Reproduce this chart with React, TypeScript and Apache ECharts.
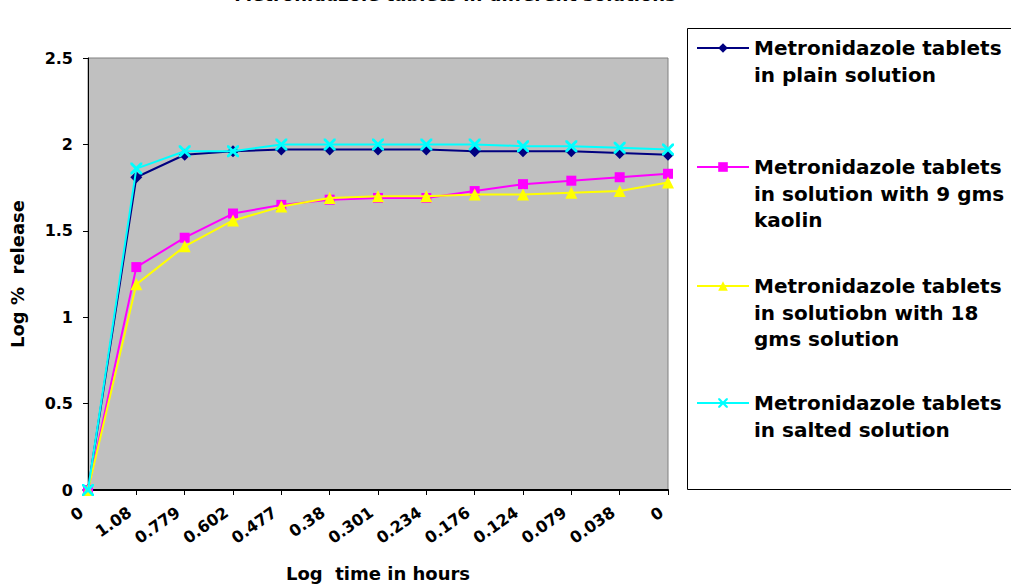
import React, { useEffect, useRef } from "react";
import * as echarts from "echarts";

const categories = ["0", "1.08", "0.779", "0.602", "0.477", "0.38", "0.301", "0.234", "0.176", "0.124", "0.079", "0.038", "0"];

const plainSolution = [0, 1.81, 1.94, 1.96, 1.97, 1.97, 1.97, 1.97, 1.96, 1.96, 1.96, 1.95, 1.94];
const kaolin9 = [0, 1.29, 1.46, 1.6, 1.65, 1.68, 1.69, 1.69, 1.73, 1.77, 1.79, 1.81, 1.83];
const solution18 = [0, 1.19, 1.41, 1.56, 1.64, 1.69, 1.7, 1.7, 1.71, 1.71, 1.72, 1.73, 1.78];
const salted = [0, 1.86, 1.96, 1.96, 2.0, 2.0, 2.0, 2.0, 2.0, 1.99, 1.99, 1.98, 1.97];

const legendLines = [
  ["Metronidazole tablets", "in plain solution"],
  ["Metronidazole tablets", "in solution with 9 gms", "kaolin"],
  ["Metronidazole tablets", "in solutiobn with 18", "gms solution"],
  ["Metronidazole tablets", "in salted solution"],
];

const yTicks = [0, 0.5, 1, 1.5, 2, 2.5];

const titleText = "Metronidazole tablets in different solutions";
const xAxisTitle = "Log  time in hours";
const yAxisTitle = "Log %  release";

const FONT = "DejaVu Sans";
const CROSS = "path://M0,0L2,0L6,4L10,0L12,0L12,2L8,6L12,10L12,12L10,12L6,8L2,12L0,12L0,10L4,6L0,2Z";

export default function App() {
  const ref = useRef<HTMLDivElement>(null);
  useEffect(() => {
    if (!ref.current) return;
    const chart = echarts.init(ref.current, null, { renderer: "svg" });
    const names = legendLines.map((l) => l.join(" "));
    const seriesData = [plainSolution, kaolin9, solution18, salted];
    const colors = ["#000080", "#FF00FF", "#FFFF00", "#00FFFF"];
    const symbols = ["diamond", "rect", "triangle", CROSS];
    const symbolSizes = [12, 10, 12, 12];
    const legendCenters = [48, 167, 286, 403];
    const lineH = 26.5;

    const legends = names.map((name, i) => {
      const lines = legendLines[i];
      const total = 2 * lines.length - 1;
      return {
        data: [name],
        left: 696,
        top: legendCenters[i] - (total * lineH) / 2,
        padding: 0,
        itemWidth: 52,
        itemHeight: 12,
        itemGap: 0,
        selectedMode: false,
        formatter: () => "\n".repeat(lines.length - 1) + lines.join("\n"),
        textStyle: {
          fontFamily: FONT,
          fontWeight: "bold",
          fontSize: 20,
          lineHeight: lineH,
          color: "#000",
        },
      };
    });

    chart.setOption({
      animation: false,
      backgroundColor: "#FFFFFF",
      grid: {
        left: 88,
        top: 58,
        width: 580,
        height: 432,
        show: true,
        backgroundColor: "#C0C0C0",
        borderColor: "#808080",
        borderWidth: 1,
        containLabel: false,
        outerBoundsMode: "none",
      },
      legend: legends,
      graphic: [
        {
          type: "rect",
          shape: { x: 687.5, y: 28.5, width: 340, height: 461 },
          style: { fill: "none", stroke: "#000", lineWidth: 1 },
          silent: true,
        },
        {
          type: "text",
          x: 455,
          y: -15,
          style: {
            text: titleText,
            fill: "#000",
            font: `bold 18px "${FONT}"`,
            textAlign: "center",
            textVerticalAlign: "top",
          },
          silent: true,
        },
      ],
      xAxis: {
        type: "category",
        data: categories,
        boundaryGap: false,
        name: xAxisTitle,
        nameLocation: "middle",
        nameGap: 74,
        nameTextStyle: { fontFamily: FONT, fontWeight: "bold", fontSize: 18, color: "#000" },
        axisLine: { show: true, lineStyle: { color: "#000", width: 2 } },
        axisTick: { show: true, inside: false, length: 5, lineStyle: { color: "#000" } },
        axisLabel: {
          interval: 0,
          rotate: 35,
          margin: 16,
          padding: [0, 8, 0, 0],
          fontFamily: FONT,
          fontWeight: "bold",
          fontSize: 16,
          color: "#000",
        },
        splitLine: { show: false },
      },
      yAxis: {
        type: "value",
        min: yTicks[0],
        max: yTicks[yTicks.length - 1],
        interval: 0.5,
        name: yAxisTitle,
        nameLocation: "middle",
        nameRotate: 90,
        nameGap: 62,
        nameTextStyle: { fontFamily: FONT, fontWeight: "bold", fontSize: 18, color: "#000" },
        axisLine: { show: true, lineStyle: { color: "#000", width: 1 } },
        axisTick: { show: true, inside: false, length: 5, lineStyle: { color: "#000" } },
        axisLabel: {
          margin: 15,
          fontFamily: FONT,
          fontWeight: "bold",
          fontSize: 16,
          color: "#000",
        },
        splitLine: { show: false },
      },
      series: names.map((name, i) => ({
        name,
        type: "line",
        data: seriesData[i],
        symbol: symbols[i],
        symbolSize: symbolSizes[i],
        showAllSymbol: true,
        z: 2 + i,
        lineStyle: { color: colors[i], width: 2 },
        itemStyle: { color: colors[i], borderWidth: 0 },
        emphasis: { disabled: true },
      })),
    });
    return () => chart.dispose();
  }, []);
  return (
    <div
      ref={ref}
      style={{ position: "fixed", left: 0, top: 0, width: 1011, height: 586 }}
    />
  );
}
